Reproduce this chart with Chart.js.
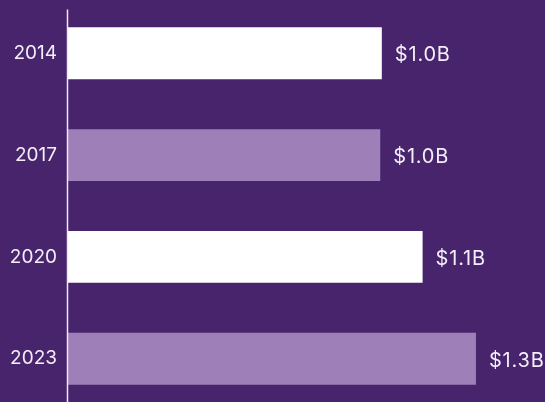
<!DOCTYPE html>
<html>
<head>
<meta charset="utf-8">
<script src="https://cdn.jsdelivr.net/npm/chart.js@4"></script>
<style>
  html, body { margin: 0; padding: 0; background: #48246c; overflow: hidden; }
  body { width: 545px; height: 402px; position: relative; }
  #wrap { width: 545px; height: 452px; position: absolute; left: 0; top: -20px; }
</style>
</head>
<body>
<div id="wrap"><canvas id="chart"></canvas></div>
<script>
// Data
const years = ["2014", "2017", "2020", "2023"];
const revenue = [1.0, 0.995, 1.13, 1.3];
const valueLabels = ["$1.0B", "$1.0B", "$1.1B", "$1.3B"];
const barColors = ["#ffffff", "#9e7fb8", "#ffffff", "#9e7fb8"];

const TEXT_COLOR = "#f3eef8";
const FONT = "Inter, 'Noto Sans', sans-serif";

// value labels at the end of each bar
const valueLabelPlugin = {
  id: "valueLabels",
  afterDatasetsDraw(chart) {
    const ctx = chart.ctx;
    const meta = chart.getDatasetMeta(0);
    ctx.save();
    ctx.fillStyle = TEXT_COLOR;
    ctx.font = "20px " + FONT;
    ctx.letterSpacing = "0.8px";
    ctx.textAlign = "left";
    ctx.textBaseline = "middle";
    meta.data.forEach((bar, i) => {
      ctx.fillText(valueLabels[i], bar.x + 13, bar.y + 2);
    });
    ctx.restore();
  }
};

// vertical axis line
const axisLinePlugin = {
  id: "axisLine",
  afterDatasetsDraw(chart) {
    const { ctx, chartArea } = chart;
    ctx.save();
    ctx.strokeStyle = "#efe8f6";
    ctx.lineWidth = 1.5;
    ctx.beginPath();
    ctx.moveTo(chartArea.left - 0.5, chartArea.top + 7);
    ctx.lineTo(chartArea.left - 0.5, chartArea.bottom);
    ctx.stroke();
    ctx.restore();
  }
};

new Chart(document.getElementById("chart"), {
  type: "bar",
  data: {
    labels: years,
    datasets: [{
      data: revenue,
      backgroundColor: barColors,
      borderWidth: 0,
      categoryPercentage: 1,
      barPercentage: 0.51
    }]
  },
  options: {
    indexAxis: "y",
    responsive: true,
    maintainAspectRatio: false,
    animation: false,
    layout: { padding: 0 },
    plugins: {
      legend: { display: false },
      tooltip: { enabled: false }
    },
    scales: {
      x: {
        display: false,
        min: 0,
        max: 1.52
      },
      y: {
        grid: { display: false, drawTicks: false },
        border: { display: false },
        afterFit(scale) { scale.width = 68; },
        ticks: {
          color: TEXT_COLOR,
          padding: 11,
          font: { family: FONT, size: 19 }
        }
      }
    }
  },
  plugins: [valueLabelPlugin, axisLinePlugin]
});
</script>
</body>
</html>
